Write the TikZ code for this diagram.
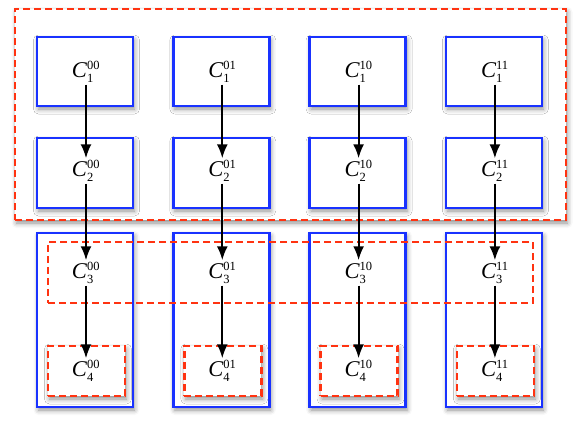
\documentclass[tikz,border=0pt]{standalone}
\usepackage{fontspec}
\setmainfont{Liberation Serif}
\usetikzlibrary{shadows.blur,arrows.meta}
\definecolor{bblue}{RGB}{25,50,255}
\definecolor{rred}{RGB}{255,51,17}
\newcommand{\lab}[2]{\fontsize{22.5}{26}\selectfont$\mathit{C}^{\mbox{\fontsize{12.5}{13}\selectfont #1}}_{\mbox{\fontsize{12.5}{13}\selectfont #2}}$}
\tikzset{
  shad/.style={blur shadow={shadow xshift=1.5pt,shadow yshift=-3pt,shadow blur radius=5pt,shadow opacity=45}},
  bluebox/.style={draw=bblue,line width=2.8pt,fill=white,shad,inner sep=0pt},
  redbox/.style={draw=rred,line width=2.6pt,dash pattern=on 7pt off 4pt,inner sep=0pt},
  lbl/.style={inner sep=2pt},
  arr/.style={-{Latex[length=14pt,width=11pt]},line width=2pt,black}
}
\begin{document}
\begin{tikzpicture}[x=1pt,y=-1pt]
\useasboundingbox (0,0) rectangle (579,429);
\node[redbox,fill=white,shad,minimum width=551pt,minimum height=211pt] (outer) at (290.5,114.5) {};
\foreach \i/\s in {0/00,1/01,2/10,3/11}{
  \pgfmathsetmacro{\cx}{85+136.3*\i}
  \node[bluebox,minimum width=96pt,minimum height=69pt] (ba\s) at (\cx,71.5) {};
  \node[bluebox,minimum width=96pt,minimum height=70pt] (bb\s) at (\cx,173) {};
  \node[bluebox,minimum width=96pt,minimum height=174pt] (bc\s) at (\cx,320) {};
}
\node[redbox,minimum width=485pt,minimum height=61pt] (mid) at (290.5,272.5) {};
\foreach \i/\s in {0/00,1/01,2/10,3/11}{
  \pgfmathsetmacro{\cx}{85+136.3*\i}
  \node[redbox,fill=white,shad,minimum width=77pt,minimum height=50pt] (bd\s) at (\cx+1.5,371) {};
  \node[lbl] (c1\s) at (\cx+1,72) {\lab{\s}{1}};
  \node[lbl] (c2\s) at (\cx+1,171) {\lab{\s}{2}};
  \node[lbl] (c3\s) at (\cx+1,273) {\lab{\s}{3}};
  \node[lbl] (c4\s) at (\cx+1,371) {\lab{\s}{4}};
  \draw[arr] (c1\s) -- (c2\s);
  \draw[arr] (c2\s) -- (c3\s);
  \draw[arr] (c3\s) -- (c4\s);
}
\end{tikzpicture}
\end{document}
